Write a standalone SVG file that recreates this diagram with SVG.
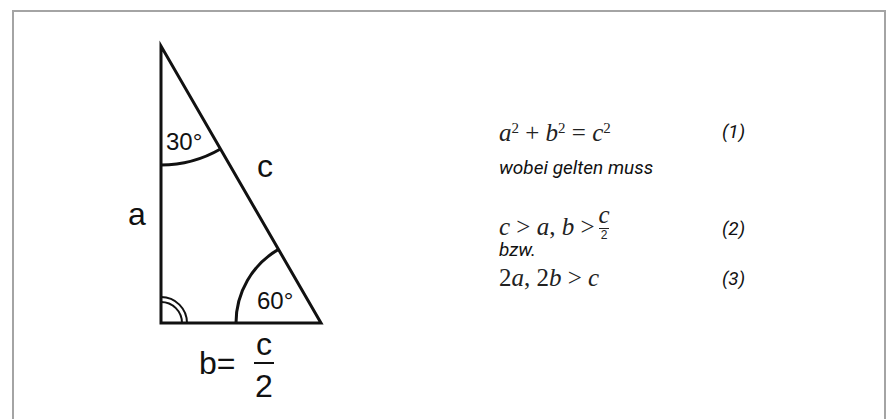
<svg xmlns="http://www.w3.org/2000/svg" width="888" height="419" viewBox="0 0 888 419">
<style>
.lbl{font-family:"Liberation Sans",Arial,sans-serif;fill:#111}
.eq{font-family:"Liberation Serif","Times New Roman",serif;fill:#222;font-size:25px}
.it{font-style:italic}
.sup{font-size:15px}
.note{font-family:Roboto,"Liberation Sans",sans-serif;font-style:italic;font-size:19px;fill:#111}
.thick{fill:none;stroke:#111;stroke-width:3}
.thin{fill:none;stroke:#111;stroke-width:2}
</style>
<rect x="13" y="11" width="872" height="430" fill="#fff" stroke="#a4a4a4" stroke-width="2"/>
<g id="triangle">
  <path class="thick" d="M161,46 L161,323 L321,323 Z"/>
  <path class="thick" d="M161,165 A119,119 0 0 0 220.5,149"/>
  <path class="thick" d="M236,323 A85,85 0 0 1 278.5,249.4"/>
  <path class="thin" d="M187,323 A26,26 0 0 0 161,297"/>
  <path class="thin" d="M182,323 A21,21 0 0 0 161,302"/>
</g>
<g id="labels">
  <text class="lbl" x="166" y="150" font-size="24">30°</text>
  <text class="lbl" x="257" y="309" font-size="24">60°</text>
  <text class="lbl" x="257" y="177" font-size="32">c</text>
  <text class="lbl" x="128" y="225" font-size="32">a</text>
  <text class="lbl" x="199" y="374" font-size="32">b=</text>
  <text class="lbl" x="264" y="355" font-size="32" text-anchor="middle">c</text>
  <line x1="254" y1="363" x2="274" y2="363" stroke="#111" stroke-width="2"/>
  <text class="lbl" x="264" y="397" font-size="32" text-anchor="middle">2</text>
</g>
<g id="eq1">
  <text class="eq" x="499" y="141"><tspan class="it">a</tspan><tspan class="sup" dy="-8">2</tspan><tspan dy="8"> + </tspan><tspan class="it">b</tspan><tspan class="sup" dy="-8">2</tspan><tspan dy="8"> = </tspan><tspan class="it">c</tspan><tspan class="sup" dy="-8">2</tspan></text>
  <text class="note" x="722" y="138">(1)</text>
</g>
<text class="note" x="499" y="174">wobei gelten muss</text>
<g id="eq2">
  <text class="eq" x="499" y="235"><tspan class="it">c</tspan> &gt; <tspan class="it">a</tspan>, <tspan class="it">b</tspan> &gt;</text>
  <text class="eq it" x="604" y="223" font-size="15" text-anchor="middle">c</text>
  <line x1="599" y1="228.5" x2="609" y2="228.5" stroke="#222" stroke-width="1"/>
  <text x="604" y="239" font-size="12" text-anchor="middle" font-family="'Liberation Sans',Arial,sans-serif" fill="#222">2</text>
  <text class="note" x="722" y="235">(2)</text>
</g>
<text class="note" x="499" y="256">bzw.</text>
<g id="eq3">
  <text class="eq" x="499" y="286">2<tspan class="it">a</tspan>, 2<tspan class="it">b</tspan> &gt; <tspan class="it">c</tspan></text>
  <text class="note" x="722" y="285">(3)</text>
</g>
</svg>
